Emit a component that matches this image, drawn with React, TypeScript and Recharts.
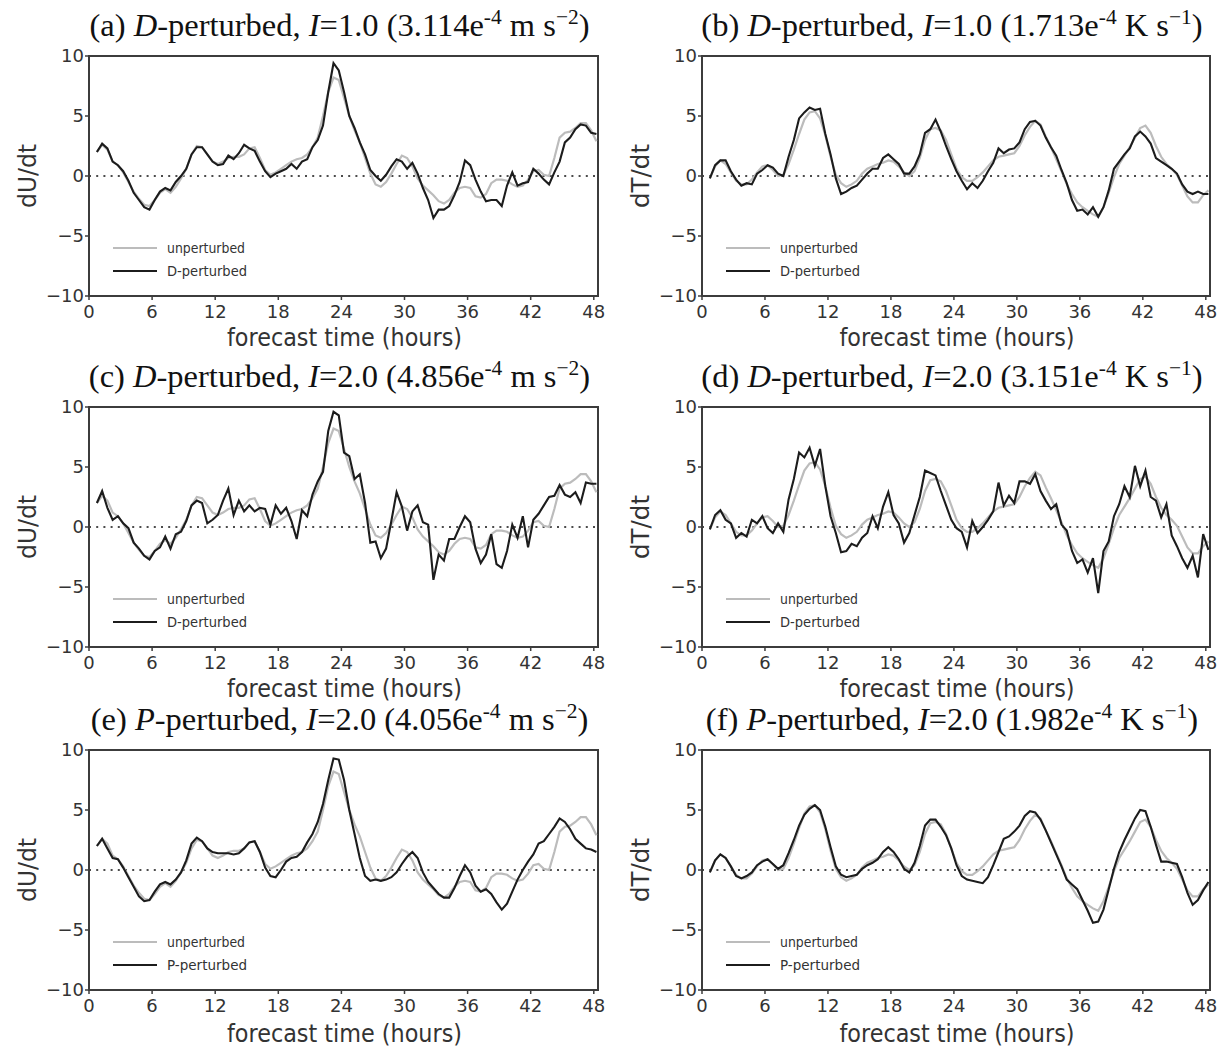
import React from 'react';
import { LineChart, Line, XAxis, YAxis, ReferenceLine, ReferenceArea } from 'recharts';

// forecast hours of each sample
const hours = [
  0.75, 1.25, 1.75, 2.25, 2.75, 3.25, 3.75, 4.25,
  4.75, 5.25, 5.75, 6.25, 6.75, 7.25, 7.75, 8.25,
  8.75, 9.25, 9.75, 10.25, 10.75, 11.25, 11.75, 12.25,
  12.75, 13.25, 13.75, 14.25, 14.75, 15.25, 15.75, 16.25,
  16.75, 17.25, 17.75, 18.25, 18.75, 19.25, 19.75, 20.25,
  20.75, 21.25, 21.75, 22.25, 22.75, 23.25, 23.75, 24.25,
  24.75, 25.25, 25.75, 26.25, 26.75, 27.25, 27.75, 28.25,
  28.75, 29.25, 29.75, 30.25, 30.75, 31.25, 31.75, 32.25,
  32.75, 33.25, 33.75, 34.25, 34.75, 35.25, 35.75, 36.25,
  36.75, 37.25, 37.75, 38.25, 38.75, 39.25, 39.75, 40.25,
  40.75, 41.25, 41.75, 42.25, 42.75, 43.25, 43.75, 44.25,
  44.75, 45.25, 45.75, 46.25, 46.75, 47.25, 47.75, 48.25,
];

// unperturbed dU/dt (panels a, c, e)
const unperturbedU = [
  2.0, 2.6, 2.2, 1.2, 0.9, 0.3, -0.5, -1.3,
  -1.9, -2.4, -2.5, -2.0, -1.4, -1.1, -1.4, -0.9,
  -0.2, 0.6, 1.8, 2.5, 2.4, 1.8, 1.2, 1.0,
  1.2, 1.5, 1.6, 1.6, 1.8, 2.3, 2.4, 1.5,
  0.5, 0.1, 0.3, 0.6, 0.9, 1.2, 1.4, 1.5,
  1.8, 2.4, 3.2, 5.0, 7.0, 8.2, 8.0, 6.5,
  5.0, 3.8, 2.8, 1.5, 0.2, -0.7, -0.9, -0.5,
  0.2, 1.0, 1.7, 1.5, 0.8, -0.2, -0.8, -1.2,
  -1.6, -2.1, -2.3, -2.0, -1.4, -1.0, -0.9, -1.0,
  -1.7, -1.8, -1.5, -0.6, -0.3, -0.3, -0.4, -0.7,
  -0.9, -0.8, -0.3, 0.4, 0.5, 0.1, 0.0, 1.5,
  3.2, 3.6, 3.7, 4.0, 4.4, 4.4, 3.8, 2.9,
];

// (a) D-perturbed, I=1.0, dU/dt
const dPerturbedU1 = [
  2.0, 2.7, 2.3, 1.2, 0.9, 0.4, -0.4, -1.4,
  -2.0, -2.6, -2.8, -2.0, -1.3, -1.0, -1.2, -0.5,
  0.0, 0.6, 1.8, 2.4, 2.4, 1.8, 1.2, 0.9,
  1.0, 1.7, 1.4, 1.9, 2.6, 2.3, 2.1, 1.2,
  0.4, -0.1, 0.2, 0.4, 0.6, 1.0, 0.6, 1.2,
  1.4, 2.4, 3.0, 4.2, 7.0, 9.4, 8.8, 7.0,
  5.0, 4.0, 2.8, 1.8, 0.5, 0.0, -0.4, 0.1,
  0.8, 1.4, 1.2, 0.6, 1.1, 0.2, -1.0, -2.0,
  -3.5, -2.8, -2.8, -2.5, -1.6, -0.5, 1.3, 0.9,
  -0.3, -1.3, -2.1, -2.0, -2.0, -2.5, -0.8, 0.3,
  -0.8, -0.6, -0.5, 0.6, 0.2, -0.3, -0.7, 0.3,
  1.2, 2.8, 3.2, 3.9, 4.3, 4.2, 3.6, 3.5,
];

// (c) D-perturbed, I=2.0, dU/dt
const dPerturbedU2 = [
  2.0, 3.0, 1.6, 0.6, 0.9, 0.3, -0.1, -1.3,
  -1.8, -2.4, -2.7, -2.0, -1.7, -0.8, -1.8, -0.6,
  -0.4, 0.5, 1.8, 2.2, 2.0, 0.3, 0.6, 1.0,
  2.2, 3.2, 1.0, 2.2, 1.3, 1.8, 1.3, 1.6,
  1.5, 0.2, 1.8, 1.1, 1.6, 0.5, -1.0, 1.4,
  0.9, 2.7, 3.8, 4.6, 8.0, 9.6, 9.3, 6.2,
  5.9, 4.0, 4.4, 2.0, -1.3, -1.2, -2.6, -1.8,
  0.5, 2.9, 1.7, -0.3, 1.3, 1.8, 0.4, 0.2,
  -4.4, -2.3, -2.8, -1.0, -1.0, 0.0, 0.9, 0.4,
  -1.8, -3.0, -2.3, -0.6, -3.1, -3.4, -2.0, 0.2,
  -0.9, 0.9, -1.7, 0.6, 1.1, 1.8, 2.5, 2.6,
  3.5, 2.7, 2.5, 2.9, 2.0, 3.7, 3.6, 3.6,
];

// (e) P-perturbed, I=2.0, dU/dt
const pPerturbedU2 = [
  2.0, 2.6, 1.8, 1.0, 0.9, 0.2, -0.6, -1.4,
  -2.2, -2.6, -2.5, -1.8, -1.2, -1.0, -1.2, -0.8,
  -0.2, 0.8, 2.2, 2.7, 2.4, 1.8, 1.5, 1.4,
  1.4, 1.4, 1.3, 1.4, 1.8, 2.3, 2.4, 1.5,
  0.2, -0.5, -0.6, 0.0, 0.7, 1.0, 1.1, 1.5,
  2.3, 3.0, 4.0, 5.5, 7.5, 9.3, 9.2, 7.5,
  5.0, 3.0, 1.0, -0.5, -0.9, -0.8, -0.9, -0.8,
  -0.6, -0.2, 0.5, 1.1, 1.5, 1.0, -0.2, -1.0,
  -1.5, -2.0, -2.3, -2.3, -1.5, -0.5, 0.4, -0.2,
  -1.3, -1.8, -1.6, -2.0, -2.7, -3.3, -2.8, -1.8,
  -0.8, 0.0, 0.7, 1.3, 2.2, 2.4, 3.0, 3.6,
  4.3, 4.0, 3.4, 2.6, 2.2, 1.8, 1.7, 1.5,
];

// unperturbed dT/dt (panels b, d, f)
const unperturbedT = [
  -0.2, 0.8, 1.3, 1.0, 0.3, -0.4, -0.7, -0.7,
  -0.3, 0.3, 0.8, 0.9, 0.5, 0.0, 0.1, 1.0,
  2.2, 3.5, 4.7, 5.3, 5.4, 4.8, 3.4, 1.6,
  0.1, -0.6, -0.9, -0.7, -0.4, 0.2, 0.6, 0.8,
  1.0, 1.1, 1.3, 1.2, 0.8, 0.3, 0.0, 0.4,
  1.5, 3.0, 3.9, 4.0, 3.8, 3.0, 1.8, 0.6,
  -0.1, -0.4, -0.4, -0.1, 0.3, 0.8, 1.3, 1.6,
  1.7, 1.8, 1.9, 2.5, 3.4, 4.1, 4.6, 4.3,
  3.3, 2.4, 1.4, 0.4, -0.7, -1.5, -2.2, -2.6,
  -2.9, -3.2, -3.4, -2.6, -1.4, -0.1, 1.0, 1.7,
  2.4, 3.2, 4.0, 4.2, 3.6, 2.5, 1.6, 1.0,
  0.6, 0.1, -0.8, -1.7, -2.2, -2.2, -1.6, -1.2,
];

// (b) D-perturbed, I=1.0, dT/dt
const dPerturbedT1 = [
  -0.2, 0.9, 1.3, 1.3, 0.4, -0.3, -0.8, -0.6,
  -0.7, 0.2, 0.5, 0.9, 0.7, 0.2, 0.0, 1.6,
  3.0, 4.8, 5.3, 5.7, 5.5, 5.6, 3.5, 1.8,
  -0.2, -1.5, -1.3, -1.0, -0.8, -0.3, 0.2, 0.6,
  0.6, 1.5, 1.8, 1.4, 1.0, 0.2, 0.2, 0.8,
  1.8, 3.6, 3.9, 4.7, 3.7, 2.5, 1.4, 0.4,
  -0.4, -1.1, -0.6, -1.0, -0.4, 0.4, 1.1, 2.3,
  1.9, 2.2, 2.3, 2.8, 3.9, 4.5, 4.6, 4.2,
  3.2, 2.4, 1.7, 0.5, -0.6, -2.0, -2.9, -2.8,
  -3.2, -2.6, -3.4, -2.6, -1.2, 0.6, 1.2, 1.8,
  2.3, 3.3, 3.7, 3.3, 2.7, 1.5, 1.2, 0.9,
  0.6, 0.2, -0.7, -1.3, -1.5, -1.3, -1.5, -1.5,
];

// (d) D-perturbed, I=2.0, dT/dt
const dPerturbedT2 = [
  -0.2, 1.0, 1.4, 0.6, 0.3, -0.9, -0.5, -0.8,
  0.6, 0.3, 0.9, -0.1, -0.5, 0.3, -0.4, 2.3,
  4.0, 6.2, 5.8, 6.6, 5.1, 6.5, 3.4, 0.9,
  -0.5, -2.1, -2.0, -1.4, -1.6, -0.9, -0.5, 0.9,
  -0.1, 1.7, 2.9, 1.0, 0.3, -1.3, -0.5, 1.0,
  2.5, 4.7, 4.5, 4.3, 3.0, 1.8, 0.6, -0.1,
  -0.4, -1.7, 0.5, -0.5, 0.0, 0.6, 1.3, 3.7,
  1.8, 2.6, 2.0, 3.8, 3.8, 3.6, 4.4, 3.0,
  2.2, 1.5, 1.9, 0.2, -0.3, -2.0, -3.0, -2.7,
  -3.8, -2.6, -5.5, -2.0, -1.2, 0.9, 1.9, 3.4,
  2.5, 5.1, 3.4, 4.7, 2.5, 2.2, 0.8, 1.9,
  -0.7, -1.6, -2.6, -3.4, -2.4, -4.2, -0.6, -1.9,
];

// (f) P-perturbed, I=2.0, dT/dt
const pPerturbedT2 = [
  -0.2, 0.8, 1.3, 1.0, 0.3, -0.5, -0.7, -0.5,
  -0.2, 0.4, 0.7, 0.9, 0.5, 0.1, 0.4, 1.4,
  2.5, 3.7, 4.6, 5.1, 5.4, 5.0, 3.6, 1.9,
  0.3, -0.4, -0.6, -0.5, -0.4, 0.1, 0.4, 0.6,
  0.9, 1.5, 1.9, 1.5, 0.9, 0.1, -0.2, 0.6,
  2.0, 3.7, 4.2, 4.2, 3.6, 2.9, 1.8, 0.4,
  -0.5, -0.8, -0.9, -1.0, -1.1, -0.6, 0.4, 1.5,
  2.6, 2.8, 3.2, 3.7, 4.5, 4.9, 4.8, 4.2,
  3.3, 2.3, 1.3, 0.3, -0.8, -1.2, -1.6, -2.5,
  -3.4, -4.4, -4.3, -3.3, -1.6, 0.1, 1.5, 2.5,
  3.4, 4.3, 5.0, 4.9, 3.6, 2.1, 0.7, 0.7,
  0.6, 0.5, -0.6, -1.9, -2.9, -2.5, -1.7, -1.0,
];

const xTicks = [0, 6, 12, 18, 24, 30, 36, 42, 48];
const yTicks = [-10, -5, 0, 5, 10];

type Panel = {
  letter: string;
  kind: string;
  intensity: string;
  mant: string;
  unit: string;
  pow: string;
  yLabel: string;
  col: number;
  row: number;
  gray: number[];
  black: number[];
};

const panels: Panel[] = [
  { letter: 'a', kind: 'D', intensity: '1.0', mant: '3.114', unit: 'm s', pow: '\u22122', yLabel: 'dU/dt', col: 0, row: 0, gray: unperturbedU, black: dPerturbedU1 },
  { letter: 'b', kind: 'D', intensity: '1.0', mant: '1.713', unit: 'K s', pow: '\u22121', yLabel: 'dT/dt', col: 1, row: 0, gray: unperturbedT, black: dPerturbedT1 },
  { letter: 'c', kind: 'D', intensity: '2.0', mant: '4.856', unit: 'm s', pow: '\u22122', yLabel: 'dU/dt', col: 0, row: 1, gray: unperturbedU, black: dPerturbedU2 },
  { letter: 'd', kind: 'D', intensity: '2.0', mant: '3.151', unit: 'K s', pow: '\u22121', yLabel: 'dT/dt', col: 1, row: 1, gray: unperturbedT, black: dPerturbedT2 },
  { letter: 'e', kind: 'P', intensity: '2.0', mant: '4.056', unit: 'm s', pow: '\u22122', yLabel: 'dU/dt', col: 0, row: 2, gray: unperturbedU, black: pPerturbedU2 },
  { letter: 'f', kind: 'P', intensity: '2.0', mant: '1.982', unit: 'K s', pow: '\u22121', yLabel: 'dT/dt', col: 1, row: 2, gray: unperturbedT, black: pPerturbedT2 },
];

const COLS = [
  { left: 0, width: 610, plotLeft: 89, plotWidth: 509 },
  { left: 610, width: 613, plotLeft: 702, plotWidth: 508 },
];
const ROW_TOPS = [56, 407, 750];
const XLABEL_GAP = [50, 50, 52];
const PLOT_H = 240;
const TOP_M = 16;
const XAXIS_H = 60;
const Y_AXIS_W = 40;

const AXIS = '#3c3c3c';
const GRAY = '#bcbcbc';
const BLACK = '#1c1c1c';
const SANS = "'DejaVu Sans', sans-serif";

const fmt = (v: number) => (v < 0 ? '\u2212' + Math.abs(v) : String(v));

function Title({ p }: { p: Panel }) {
  const c = COLS[p.col];
  const center = c.plotLeft + c.plotWidth / 2 - 4;
  const top = ROW_TOPS[p.row] - 47;
  const sup: React.CSSProperties = { fontSize: '0.66em', position: 'relative', top: '-0.55em' };
  return (
    <div
      style={{
        position: 'absolute',
        left: center - 320,
        width: 640,
        top,
        textAlign: 'center',
        fontFamily: "'Liberation Serif', 'Times New Roman', serif",
        fontSize: 32.5,
        lineHeight: '32px',
        color: '#111',
        whiteSpace: 'nowrap',
      }}
    >
      ({p.letter}) <i>{p.kind}</i>-perturbed, <i>I</i>={p.intensity} ({p.mant}e<span style={sup}>-4</span> {p.unit}
      <span style={sup}>{p.pow}</span>)
    </div>
  );
}

function Overlay({ p }: { p: Panel }) {
  const c = COLS[p.col];
  const top = ROW_TOPS[p.row];
  const pl = c.plotLeft;
  const legY1 = top + 192;
  const legY2 = top + 215;
  const xlY = top + PLOT_H + XLABEL_GAP[p.row];
  const ylX = pl - 53;
  const ylY = top + PLOT_H / 2;
  return (
    <svg
      width={1223}
      height={1048}
      style={{ position: 'absolute', left: 0, top: 0, pointerEvents: 'none', overflow: 'visible' }}
    >
      <line x1={pl + 24} x2={pl + 68} y1={legY1} y2={legY1} stroke={GRAY} strokeWidth={2} />
      <line x1={pl + 24} x2={pl + 68} y1={legY2} y2={legY2} stroke={BLACK} strokeWidth={2} />
      <text x={pl + 78} y={legY1 + 5} fontFamily={SANS} fontSize={13.5} fill="#333" textLength={78} lengthAdjust="spacingAndGlyphs">
        unperturbed
      </text>
      <text x={pl + 78} y={legY2 + 5} fontFamily={SANS} fontSize={13.5} fill="#333" textLength={80} lengthAdjust="spacingAndGlyphs">
        {p.kind}-perturbed
      </text>
      <text
        x={pl + c.plotWidth / 2 + 1}
        y={xlY}
        textAnchor="middle"
        fontFamily={SANS}
        fontSize={25}
        fill="#333"
        textLength={235}
        lengthAdjust="spacingAndGlyphs"
      >
        forecast time (hours)
      </text>
      <text
        transform={`translate(${ylX},${ylY}) rotate(-90)`}
        textAnchor="middle"
        fontFamily={SANS}
        fontSize={24}
        fill="#333"
        textLength={64}
        lengthAdjust="spacingAndGlyphs"
      >
        {p.yLabel}
      </text>
    </svg>
  );
}

function PanelChart({ p }: { p: Panel }) {
  const c = COLS[p.col];
  const rows = hours.map((t, i) => ({ t, u: p.gray[i], v: p.black[i] }));
  const ml = c.plotLeft - c.left - Y_AXIS_W;
  const mr = c.width - ml - Y_AXIS_W - c.plotWidth;
  return (
    <div style={{ position: 'absolute', left: c.left, top: ROW_TOPS[p.row] - TOP_M }}>
      <LineChart
        width={c.width}
        height={TOP_M + PLOT_H + XAXIS_H}
        data={rows}
        margin={{ top: TOP_M, right: mr, bottom: 0, left: ml }}
      >
        <XAxis
          dataKey="t"
          type="number"
          domain={[0, 48.4]}
          ticks={xTicks}
          interval={0}
          height={XAXIS_H}
          tickSize={4}
          tickMargin={5}
          axisLine={{ stroke: AXIS, strokeWidth: 2 }}
          tickLine={{ stroke: AXIS, strokeWidth: 1.5 }}
          tick={{ fill: '#333', fontSize: 18, fontFamily: SANS }}
        />
        <YAxis
          type="number"
          domain={[-10, 10]}
          ticks={yTicks}
          interval={0}
          width={Y_AXIS_W}
          tickSize={4}
          tickMargin={1}
          tickFormatter={fmt}
          axisLine={{ stroke: AXIS, strokeWidth: 2 }}
          tickLine={{ stroke: AXIS, strokeWidth: 1.5 }}
          tick={{ fill: '#333', fontSize: 18, fontFamily: SANS }}
        />
        <ReferenceLine y={0} stroke="#111" strokeWidth={1.6} strokeDasharray="2 5.2" />
        <Line
          type="linear"
          dataKey="u"
          stroke={GRAY}
          strokeWidth={2.2}
          dot={false}
          activeDot={false}
          isAnimationActive={false}
        />
        <Line
          type="linear"
          dataKey="v"
          stroke={BLACK}
          strokeWidth={2.1}
          dot={false}
          activeDot={false}
          isAnimationActive={false}
        />
        <ReferenceArea x1={0} x2={48.4} y1={-10} y2={10} fill="none" fillOpacity={0} stroke={AXIS} strokeWidth={2} />
      </LineChart>
    </div>
  );
}

export default function App() {
  return (
    <div style={{ position: 'absolute', left: 0, top: 0, width: 1223, height: 1048, background: '#fff', overflow: 'hidden' }}>
      {panels.map((p) => (
        <React.Fragment key={p.letter}>
          <PanelChart p={p} />
          <Title p={p} />
          <Overlay p={p} />
        </React.Fragment>
      ))}
    </div>
  );
}
